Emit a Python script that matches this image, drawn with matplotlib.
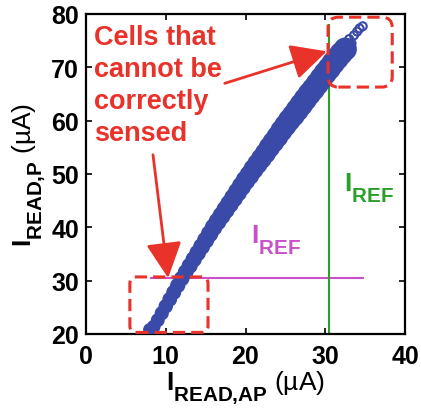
import numpy as np
import matplotlib
matplotlib.use("Agg")
import matplotlib.pyplot as plt
from matplotlib.patches import FancyBboxPatch, FancyArrowPatch

plt.rcParams['font.family'] = ['Liberation Sans', 'DejaVu Sans']
plt.rcParams['mathtext.fontset'] = 'custom'
plt.rcParams['mathtext.rm'] = 'Liberation Sans'
plt.rcParams['mathtext.bf'] = 'Liberation Sans:bold'
plt.rcParams['mathtext.it'] = 'Liberation Sans:italic'
try:  # larger, lower subscripts as in the original figure
    import matplotlib._mathtext as _mt
    _mt.SHRINK_FACTOR = 0.78
    _mt.FontConstantsBase.sub1 = 0.85
    _mt.FontConstantsBase.sub2 = 0.9
except Exception:
    pass

# ---- data ----
# dense band of cells: I_READ,AP (uA) vs I_READ,P (uA)
cells_ap = [8.0, 8.5, 9.0, 9.5, 10.0, 10.5, 11.0, 11.5, 12.0, 12.5, 13.0, 13.5,
            14.0, 14.5, 15.0, 15.5, 16.0, 16.5, 17.0, 17.5, 18.0, 18.5, 19.0, 19.5,
            20.0, 20.5, 21.0, 21.5, 22.0, 22.5, 23.0, 23.5, 24.0, 24.5, 25.0, 25.5,
            26.0, 26.5, 27.0, 27.5, 28.0, 28.5, 29.0, 29.5, 30.0, 30.5, 31.0, 31.5,
            32.0, 32.5]
cells_p = [20.8, 21.4, 22.6, 23.9, 25.2, 26.5, 27.8, 29.1, 30.4, 31.6, 32.8, 34.0,
           35.2, 36.4, 37.6, 38.8, 40.0, 41.1, 42.2, 43.3, 44.4, 45.5, 46.6, 47.7,
           48.8, 49.8, 50.9, 51.9, 52.9, 53.9, 55.0, 56.0, 57.0, 58.1, 59.1, 60.1,
           61.0, 62.0, 63.0, 64.0, 65.0, 65.9, 66.9, 67.9, 68.9, 69.8, 70.8, 71.7,
           72.6, 73.4]
# sparse outlying cells at the top end
outer_ap = [32.7, 33.3, 33.0, 33.6, 34.0, 34.3, 34.7]
outer_p = [74.3, 74.5, 75.3, 76.0, 76.7, 77.3, 77.7]

iref_ap = 30.5   # vertical reference current (uA)
iref_p = 30.5    # horizontal reference current (uA)
xticks = [0, 10, 20, 30, 40]
yticks = [20, 30, 40, 50, 60, 70, 80]

blue = '#3a4aa8'
green = '#2aa02a'
magenta = '#c850c8'
red = '#e8322a'

fig = plt.figure(figsize=(4.21, 4.10), dpi=100)
ax = fig.add_axes([86/421, 1-335/410, (405-86)/421, (335-15)/410])

# dense band (overlapping circles) -- size grows along band
n = len(cells_ap)
diam_px = np.clip(np.linspace(12, 25, n), 12, 22)
sizes = (diam_px * 0.72) ** 2
ax.scatter(cells_ap, cells_p, s=sizes, facecolor=blue, edgecolor=blue,
           linewidths=1.0, zorder=3)
ax.scatter(outer_ap, outer_p, s=(8*0.72)**2, facecolor='none', edgecolor=blue,
           linewidths=1.5, zorder=3)

# reference lines span the data range
all_ap = cells_ap + outer_ap
all_p = cells_p + outer_p
ax.plot([min(all_ap) + 0.2, max(all_ap)], [iref_p, iref_p], color=magenta, lw=1.5, zorder=2)
ax.plot([iref_ap, iref_ap], [20, max(all_p) + 0.3], color=green, lw=1.5, zorder=2)

ax.set_xlim(0, 40)
ax.set_ylim(20, 80)
ax.set_xticks(xticks)
ax.set_yticks(yticks)
ax.tick_params(direction='in', length=4, width=1.2, top=True, right=True,
               labelsize=18)
ax.tick_params(axis='x', pad=7)
ax.tick_params(axis='y', pad=5)
for lab in ax.get_xticklabels() + ax.get_yticklabels():
    lab.set_fontweight('bold')
for sp in ax.spines.values():
    sp.set_linewidth(1.6)

ax.set_xlabel(r'$\mathbf{I}_{\mathbf{READ{,}AP}}$ (µA)', fontsize=19, labelpad=0)
ax.set_ylabel(r'$\mathbf{I}_{\mathbf{READ{,}P}}$ (µA)', fontsize=19, labelpad=2)

# annotations
ax.text(1.0, 78.2, 'Cells that\ncannot be\ncorrectly\nsensed', color=red,
        fontsize=19.5, fontweight='bold', ha='left', va='top', linespacing=1.3,
        zorder=5)
ax.text(32.4, 50.8, r'$\mathbf{I}_{\mathbf{REF}}$', color=green, fontsize=19,
        ha='left', va='top')
ax.text(20.7, 40.9, r'$\mathbf{I}_{\mathbf{REF}}$', color=magenta, fontsize=19,
        ha='left', va='top')

asp = 7.975 / 5.333
box1 = FancyBboxPatch((5.5, 20.3), 15.3 - 5.5, 30.7 - 20.3,
                      boxstyle='round,pad=0,rounding_size=0.8', mutation_aspect=asp,
                      fill=False, edgecolor=red, lw=2.2, linestyle=(0, (4, 2)),
                      zorder=4, clip_on=False)
box2 = FancyBboxPatch((30.35, 66.3), 38.4 - 30.35, 79.4 - 66.3,
                      boxstyle='round,pad=0,rounding_size=1.3', mutation_aspect=asp,
                      fill=False, edgecolor=red, lw=2.2, linestyle=(0, (4, 2)),
                      zorder=4, clip_on=False)
ax.add_patch(box1)
ax.add_patch(box2)

for tail, tip in [((17.4, 67.0), (30.2, 73.0)), ((8.4, 53.6), (10.3, 30.5))]:
    arr = FancyArrowPatch(tail, tip, arrowstyle='-|>,head_length=1.1,head_width=0.55',
                          mutation_scale=20, color=red, lw=2.0, zorder=6,
                          shrinkA=0, shrinkB=0)
    ax.add_patch(arr)

fig.savefig('out.png', dpi=100)
